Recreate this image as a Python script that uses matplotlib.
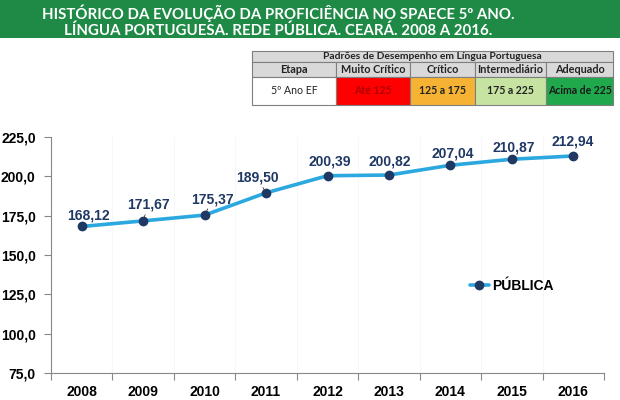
import matplotlib
matplotlib.use("Agg")
import matplotlib.pyplot as plt
from matplotlib.patches import Rectangle
from matplotlib.ticker import FixedLocator, NullFormatter

# ---- data ----
years = ["2008", "2009", "2010", "2011", "2012", "2013", "2014", "2015", "2016"]
values = [168.12, 171.67, 175.37, 189.50, 200.39, 200.82, 207.04, 210.87, 212.94]
value_labels = ["168,12", "171,67", "175,37", "189,50", "200,39", "200,82", "207,04", "210,87", "212,94"]
yticks = [75, 100, 125, 150, 175, 200, 225]
ytick_labels = ["75,0", "100,0", "125,0", "150,0", "175,0", "200,0", "225,0"]
series_name = "PÚBLICA"

title_lines = ["HISTÓRICO DA EVOLUÇÃO DA PROFICIÊNCIA NO SPAECE 5º ANO.",
               "LÍNGUA PORTUGUESA. REDE PÚBLICA. CEARÁ. 2008 A 2016."]
table_title = "Padrões de Desempenho em Língua Portuguesa"
table_headers = ["Etapa", "Muito Crítico", "Crítico", "Intermediário", "Adequado"]
table_row = ["5º Ano EF", "Até 125", "125 a 175", "175 a 225", "Acima de 225"]

# ---- style ----
W, H = 620, 400
fig = plt.figure(figsize=(W / 100, H / 100), dpi=100)
fig.patch.set_facecolor("white")

navy = "#1F3864"
line_col = "#2AA8DF"
green_banner = "#1E8A46"

# overlay axes in pixel coordinates (y downward) for banner and table
ov = fig.add_axes([0, 0, 1, 1])
ov.set_xlim(0, W)
ov.set_ylim(H, 0)
ov.axis("off")

ov.add_patch(Rectangle((0, 0), W, 38, facecolor=green_banner, edgecolor="none"))
title_font = ["Lato", "DejaVu Sans"]
ov.text(278, 13, title_lines[0], color="white", fontsize=10.8, fontweight="bold",
        family=title_font, ha="center", va="center")
ov.text(278, 31, title_lines[1], color="white", fontsize=10.8, fontweight="bold",
        family=title_font, ha="center", va="center")

# table
tx0, tx1 = 252, 613
ty = [51, 62, 77, 105]
cols = [252, 336, 410, 475, 546, 613]
border = "#7F7F7F"
hdr_fill = "#D9D9D9"
fills = ["white", "#FF0000", "#F6B233", "#C6E3A2", "#1FA84C"]
txt_colors = ["#222222", "#B00000", "#222222", "#222222", "#1a1a1a"]
tfont = ["Lato", "DejaVu Sans"]

ov.add_patch(Rectangle((tx0, ty[0]), tx1 - tx0, ty[1] - ty[0], facecolor=hdr_fill,
                       edgecolor=border, lw=0.8))
ov.text((tx0 + tx1) / 2, (ty[0] + ty[1]) / 2, table_title, fontsize=7.4, fontweight="bold",
        family=tfont, ha="center", va="center", color="#222222")
for i in range(5):
    x0, x1 = cols[i], cols[i + 1]
    ov.add_patch(Rectangle((x0, ty[1]), x1 - x0, ty[2] - ty[1], facecolor=hdr_fill,
                           edgecolor=border, lw=0.8))
    ov.text((x0 + x1) / 2, (ty[1] + ty[2]) / 2, table_headers[i], fontsize=7.8, fontweight="bold",
            family=tfont, ha="center", va="center", color="#222222")
    ov.add_patch(Rectangle((x0, ty[2]), x1 - x0, ty[3] - ty[2], facecolor=fills[i],
                           edgecolor=border, lw=0.8))
    ov.text((x0 + x1) / 2, (ty[2] + ty[3]) / 2, table_row[i], fontsize=7.6,
            fontweight="normal" if i == 0 else "bold",
            family=tfont, ha="center", va="center", color=txt_colors[i])

# ---- main chart ----
ax_left, ax_right = 51, 604
ax_top, ax_bot = 137, 373
ax = fig.add_axes([ax_left / W, 1 - ax_bot / H, (ax_right - ax_left) / W, (ax_bot - ax_top) / H])
ax.set_facecolor("none")
x = list(range(len(years)))
ax.plot(x, values, color=line_col, lw=2.6, marker="o", markersize=6,
        markerfacecolor=navy, markeredgecolor=navy, label=series_name, zorder=3,
        solid_capstyle="round")
ax.set_xlim(-0.5, len(years) - 0.5)
ax.set_ylim(75, 225)

ax.set_yticks(yticks)
ax.set_yticklabels(ytick_labels)
ax.set_xticks(x)
ax.set_xticklabels(years)
ax.xaxis.set_minor_locator(FixedLocator([i - 0.5 for i in range(len(years) + 1)]))
ax.xaxis.set_minor_formatter(NullFormatter())
ax.tick_params(axis="x", which="major", length=0, pad=9)
ax.tick_params(axis="x", which="minor", length=5, color="#888888", width=0.8)
ax.tick_params(axis="y", length=5, color="#888888", width=0.8, pad=6)
for lab in ax.get_xticklabels() + ax.get_yticklabels():
    lab.set_fontfamily(["Liberation Sans", "DejaVu Sans"])
    lab.set_fontweight("bold")
    lab.set_fontsize(10)
    lab.set_color("black")

for s in ["top", "right"]:
    ax.spines[s].set_visible(False)
for s in ["left", "bottom"]:
    ax.spines[s].set_color("#888888")
    ax.spines[s].set_linewidth(0.8)

ax.grid(axis="x", which="minor", color="#F7F7F7", lw=0.8)
ax.set_axisbelow(True)

# data label offsets in pixels (dx, dy) – dy upward
offsets = [(7, 11), (5, 16), (8, 16), (-9, 15), (2, 14), (1, 14), (2, 12), (2, 12), (-1, 14)]
leaders = [False, True, True, True, False, False, False, False, False]
for xi, v, lab, (dx, dy), ld in zip(x, values, value_labels, offsets, leaders):
    kw = {}
    if ld:
        kw["arrowprops"] = dict(arrowstyle="-", color="#333333", lw=0.6, shrinkA=6, shrinkB=3)
    ax.annotate(lab, (xi, v), xytext=(dx, dy), textcoords="offset pixels",
                ha="center", va="center", fontsize=10, fontweight="bold", color=navy,
                family=["Liberation Sans", "DejaVu Sans"], **kw)

leg = ax.legend(loc="upper left", bbox_to_anchor=((464 - ax_left) / (ax_right - ax_left),
                                                  1 - (273 - ax_top) / (ax_bot - ax_top)),
                frameon=False, handlelength=1.4, handletextpad=0.2, borderaxespad=0,
                prop={"family": ["Liberation Sans", "DejaVu Sans"], "weight": "bold", "size": 10})

fig.savefig("out.png", dpi=100)
